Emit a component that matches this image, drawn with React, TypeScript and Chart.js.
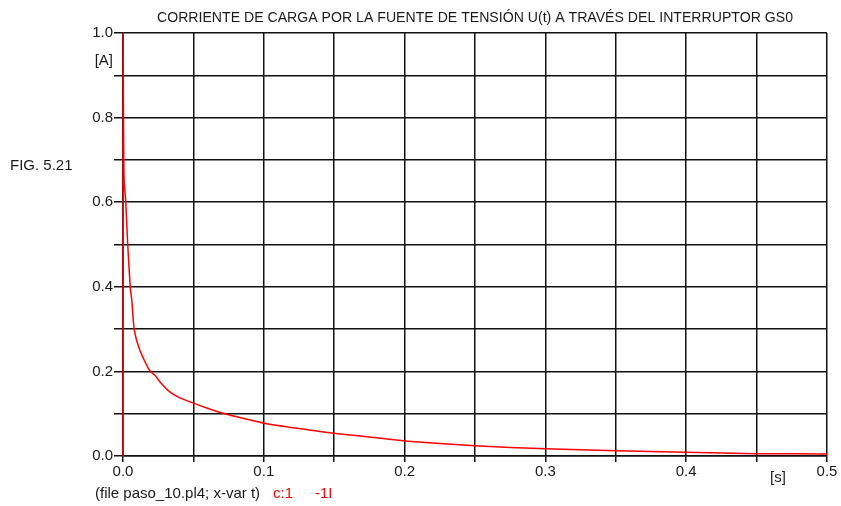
import React, { useEffect, useRef } from "react";
import { Chart, registerables } from "chart.js";

Chart.register(...registerables);

const TITLE = "CORRIENTE DE CARGA POR LA FUENTE DE TENSIÓN U(t) A TRAVÉS DEL INTERRUPTOR GS0";
const Y_UNIT = "[A]";
const X_UNIT = "[s]";
const FIG_LABEL = "FIG. 5.21";
const FOOTER_BLACK = "(file paso_10.pl4; x-var t)";
const FOOTER_RED = ["c:1", "-1I"];

const timeS = [
  0, 0.0001, 0.0004, 0.0008, 0.0019, 0.0033, 0.0052, 0.0062, 0.008, 0.012, 0.018,
  0.02, 0.023, 0.026, 0.033, 0.04, 0.05, 0.06, 0.071, 0.085, 0.101, 0.125, 0.149,
  0.175, 0.2, 0.25, 0.3, 0.35, 0.4, 0.45, 0.5,
];
const currentA = [
  0, 1.0, 0.78, 0.65, 0.605, 0.503, 0.397, 0.37, 0.298, 0.25, 0.207,
  0.198, 0.19, 0.176, 0.152, 0.138, 0.125, 0.113, 0.101, 0.089, 0.077, 0.065, 0.054,
  0.045, 0.0355, 0.024, 0.017, 0.0126, 0.009, 0.0055, 0.005,
];

const X_MIN = 0, X_MAX = 0.5, X_STEP = 0.05;
const Y_MIN = 0, Y_MAX = 1.0, Y_STEP = 0.1;

const FONT = "'Liberation Sans', Arial, sans-serif";
const TEXT = "#1a1a1a";
const GRID = "#111";

export default function App() {
  const ref = useRef<HTMLCanvasElement | null>(null);

  useEffect(() => {
    document.body.style.margin = "0";
    const canvas = ref.current!;
    const textPlugin = {
      id: "textPlugin",
      afterDraw(chart: any) {
        const ctx = chart.ctx;
        const ca = chart.chartArea;
        ctx.save();
        ctx.fillStyle = TEXT;
        ctx.font = `15px ${FONT}`;
        ctx.textBaseline = "middle";
        ctx.textAlign = "left";
        ctx.fillText(TITLE, 157, 18, 636);
        ctx.textAlign = "right";
        ctx.fillText(Y_UNIT, ca.left - 10, 61);
        ctx.textAlign = "left";
        ctx.fillText(FIG_LABEL, 10, 166);
        ctx.textAlign = "center";
        ctx.fillText(X_UNIT, 778, 478);
        ctx.textAlign = "left";
        ctx.fillText(FOOTER_BLACK, 95, 494);
        ctx.fillStyle = "#ff0000";
        ctx.fillText(FOOTER_RED[0], 273, 494);
        ctx.fillText(FOOTER_RED[1], 315, 494);
        ctx.restore();
      },
    };

    const data = timeS.map((t, i) => ({ x: t, y: currentA[i] }));

    const chart = new Chart(canvas, {
      type: "scatter",
      data: {
        datasets: [
          {
            data,
            showLine: true,
            borderColor: "#ff0000",
            borderWidth: 1.5,
            pointRadius: 0,
            tension: 0.2,
            clip: false,
          } as any,
        ],
      },
      options: {
        animation: false,
        responsive: false,
        layout: { padding: { left: 0, right: 14, top: 33, bottom: 0 } },
        plugins: { legend: { display: false }, tooltip: { enabled: false }, title: { display: false } },
        scales: {
          x: {
            type: "linear",
            min: X_MIN,
            max: X_MAX,
            border: { display: true, color: GRID, width: 1.5 },
            grid: { color: GRID, lineWidth: 1.5, tickLength: 6, drawTicks: true },
            ticks: {
              stepSize: X_STEP,
              autoSkip: false,
              maxRotation: 0,
              padding: 1,
              color: TEXT,
              font: { family: FONT, size: 15 },
              callback: (v: any) => {
                const n = Math.round(Number(v) / X_STEP);
                return n % 2 === 0 ? (Number(v)).toFixed(1) : "";
              },
            },
            afterFit: (s: any) => { s.height = 50; },
          },
          y: {
            type: "linear",
            min: Y_MIN,
            max: Y_MAX,
            border: { display: true, color: GRID, width: 1.5 },
            grid: { color: GRID, lineWidth: 1.5, tickLength: 9, drawTicks: true },
            ticks: {
              stepSize: Y_STEP,
              autoSkip: false,
              padding: 1,
              color: TEXT,
              font: { family: FONT, size: 15 },
              callback: (v: any) => {
                const n = Math.round(Number(v) / Y_STEP);
                return n % 2 === 0 ? (Number(v)).toFixed(1) : "";
              },
            },
            afterFit: (s: any) => { s.width = 123; },
          },
        },
      },
      plugins: [textPlugin],
    });
    return () => chart.destroy();
  }, []);

  return (
    <div style={{ position: "absolute", left: 0, top: 0, width: 841, height: 506, background: "#fff" }}>
      <canvas ref={ref} width={841} height={506} style={{ width: 841, height: 506 }} />
    </div>
  );
}
